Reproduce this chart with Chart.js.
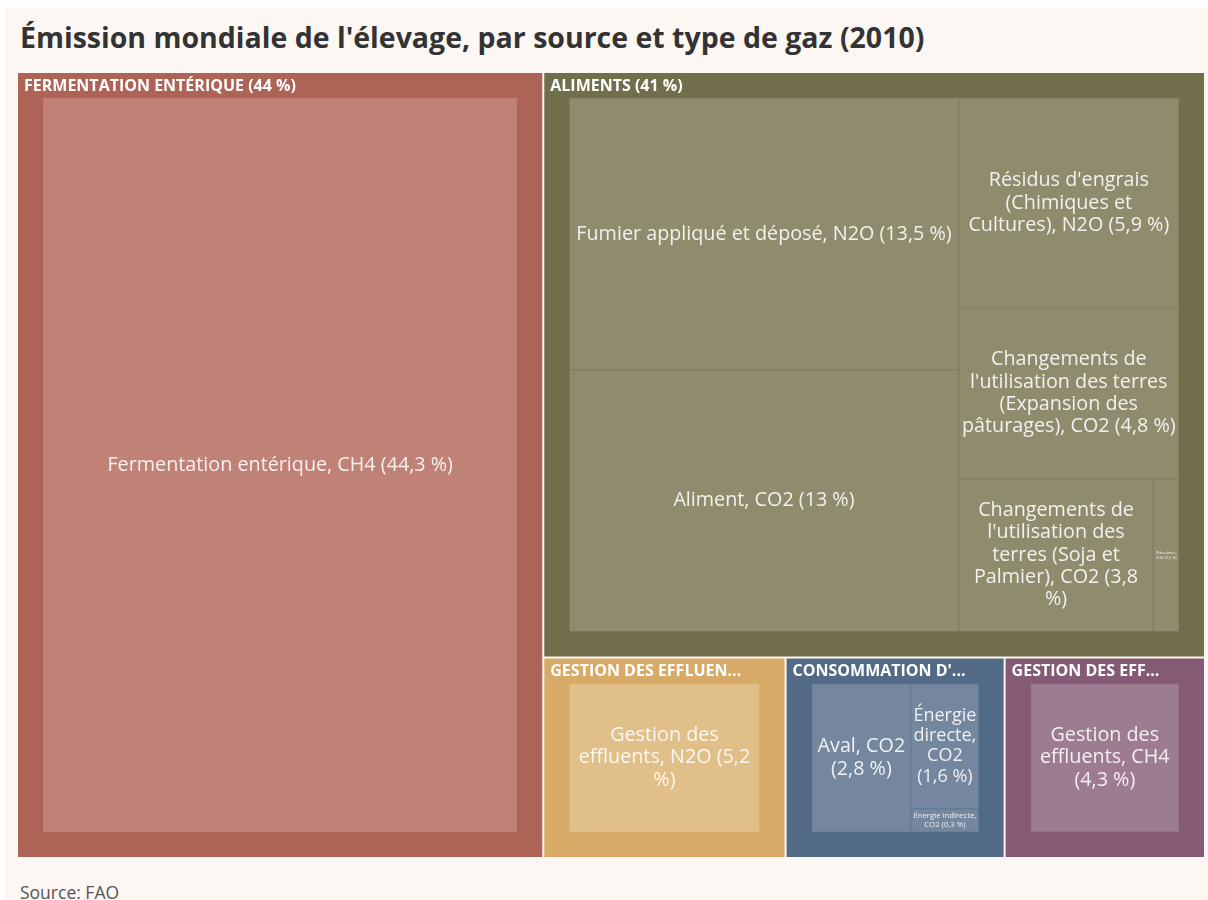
<!DOCTYPE html>
<html>
<head>
<meta charset="utf-8">
<script src="https://cdn.jsdelivr.net/npm/chart.js@4.4.0/dist/chart.umd.min.js"></script>
<style>
html,body{margin:0;padding:0;background:#fff;}
#page{position:absolute;left:5px;top:8px;width:1203px;height:892px;background:#fcf7f3;font-family:"Open Sans",sans-serif;overflow:hidden;}
h1{position:absolute;left:15px;top:12px;margin:0;font-size:28.5px;line-height:34px;font-weight:700;color:#333;}
#wrap{position:absolute;left:12px;top:64px;width:1188px;height:786px;}
#src{position:absolute;left:15px;top:872px;font-size:17.5px;line-height:24px;color:#555;}
</style>
</head>
<body>
<div id="page">
  <h1>Émission mondiale de l'élevage, par source et type de gaz (2010)</h1>
  <div id="wrap"><canvas id="myTreemap" width="1188" height="786"></canvas></div>
  <div id="src">Source: FAO</div>
</div>
<script>
// groupes (source)
var groupNames = [
  "Fermentation entérique (44 %)",
  "Aliments (41 %)",
  "Gestion des effluents, N2O (5 %)",
  "Consommation d'énergie (5 %)",
  "Gestion des effluents, CH4 (4 %)"
];
// postes (source + gaz)
var leafLabels = [
  "Fermentation entérique, CH4 (44,3 %)",
  "Fumier appliqué et déposé, N2O (13,5 %)",
  "Aliment, CO2 (13 %)",
  "Résidus d'engrais (Chimiques et Cultures), N2O (5,9 %)",
  "Changements de l'utilisation des terres (Expansion des pâturages), CO2 (4,8 %)",
  "Changements de l'utilisation des terres (Soja et Palmier), CO2 (3,8 %)",
  "Riziculture, CH4 (0,5 %)",
  "Gestion des effluents, N2O (5,2 %)",
  "Aval, CO2 (2,8 %)",
  "Énergie directe, CO2 (1,6 %)",
  "Énergie indirecte, CO2 (0,3 %)",
  "Gestion des effluents, CH4 (4,3 %)"
];
var leafValues = [44.3, 13.5, 13, 5.9, 4.8, 3.8, 0.5, 5.2, 2.8, 1.6, 0.3, 4.3];
var leafGroup  = [0, 1, 1, 1, 1, 1, 1, 2, 3, 3, 3, 4];

var groupColors = ["#ad6456", "#716f4b", "#d8aa68", "#536a86", "#845a74"];
var leafColors  = ["#c08176", "#8f8b6d", "#e1bf88", "#74879f", "#9d7b90"];

// classic squarified layout (ratio 1)
function squarify(items, x0, y0, x1, y1) {
  var value = 0, n = items.length, i0 = 0, i1 = 0;
  items.forEach(function(d){ value += d.value; });
  while (i0 < n) {
    var dx = x1 - x0, dy = y1 - y0;
    var sumValue = items[i1++].value;
    var minValue = sumValue, maxValue = sumValue;
    var alpha = Math.max(dy / dx, dx / dy) / value;
    var beta = sumValue * sumValue * alpha;
    var minRatio = Math.max(maxValue / beta, beta / minValue);
    for (; i1 < n; ++i1) {
      var nv = items[i1].value;
      sumValue += nv;
      if (nv < minValue) minValue = nv;
      if (nv > maxValue) maxValue = nv;
      beta = sumValue * sumValue * alpha;
      var newRatio = Math.max(maxValue / beta, beta / minValue);
      if (newRatio > minRatio) { sumValue -= nv; break; }
      minRatio = newRatio;
    }
    var row = items.slice(i0, i1), k, p;
    if (dx < dy) {
      var ny = y0 + dy * sumValue / value;
      k = dx / sumValue; p = x0;
      row.forEach(function(d){ d.x0 = p; p += d.value * k; d.x1 = p; d.y0 = y0; d.y1 = ny; });
      y0 = ny;
    } else {
      var nx = x0 + dx * sumValue / value;
      k = dy / sumValue; p = y0;
      row.forEach(function(d){ d.y0 = p; p += d.value * k; d.y1 = p; d.x0 = x0; d.x1 = nx; });
      x0 = nx;
    }
    value -= sumValue;
    i0 = i1;
  }
}

function wrapText(ctx, text, maxW) {
  var words = text.split(" "), lines = [], line = "";
  words.forEach(function(w){
    var t = line ? line + " " + w : w;
    if (line && ctx.measureText(t).width > maxW) { lines.push(line); line = w; }
    else line = t;
  });
  if (line) lines.push(line);
  return lines;
}

class TreemapController extends Chart.DatasetController {
  parse(start, count) {
    var meta = this._cachedMeta, data = this.getDataset().data;
    for (var i = start; i < start + count; i++) meta._parsed[i] = data[i];
  }
  update(mode) {
    var meta = this._cachedMeta;
    var xs = meta.xScale, ys = meta.yScale;
    var left = xs.getPixelForValue(xs.min), right = xs.getPixelForValue(xs.max);
    var top = ys.getPixelForValue(ys.max), bottom = ys.getPixelForValue(ys.min);
    var data = this.getDataset().data;
    var groups = data.filter(function(d){ return d.type === "group"; });
    groups.sort(function(a, b){ return b.value - a.value; });
    squarify(groups, left, top, right, bottom);
    groups.forEach(function(g){
      // 1px gap between groups
      g.x0 += 1; g.y0 += 1; g.x1 -= 1; g.y1 -= 1;
      var kids = data.filter(function(d){ return d.type === "leaf" && d.g === g.g; });
      kids.sort(function(a, b){ return b.value - a.value; });
      squarify(kids, g.x0 + 25, g.y0 + 25, g.x1 - 25, g.y1 - 25);
    });
    for (var i = 0; i < meta.data.length; i++) {
      var d = data[i];
      var leaf = d.type === "leaf";
      this.updateElement(meta.data[i], i, {
        x: (d.x0 + d.x1) / 2, y: d.y0, base: d.y1,
        width: d.x1 - d.x0, height: d.y1 - d.y0,
        horizontal: false, inflateAmount: 0, borderSkipped: {},
        options: {
          backgroundColor: leaf ? leafColors[d.g] : groupColors[d.g],
          borderColor: "rgba(255,255,255,0.22)",
          borderWidth: leaf ? 0.6 : 0,
          borderRadius: 0
        }
      }, "none");
    }
  }
  draw() {
    super.draw();
    var ctx = this._ctx, data = this.getDataset().data;
    ctx.save();
    data.forEach(function(d){
      var w = d.x1 - d.x0, h = d.y1 - d.y0;
      if (d.type === "group") {
        ctx.font = "bold 16px 'Open Sans'";
        ctx.fillStyle = "#ffffff";
        ctx.textAlign = "left";
        ctx.textBaseline = "middle";
        var t = groupNames[d.g].toUpperCase();
        var maxW = w - 44;
        if (ctx.measureText(t).width > maxW) {
          while (t.length && ctx.measureText(t + "...").width > maxW) t = t.slice(0, -1);
          t = t.replace(/[\s,]+$/, "") + "...";
        }
        ctx.fillText(t, d.x0 + 6, d.y0 + 13);
        return;
      }
      var pad = Math.min(2, w * 0.12);
      var size = 19.75, lines;
      for (; size >= 3; size -= 0.25) {
        ctx.font = size + "px 'Open Sans'";
        lines = wrapText(ctx, d.label, w - 2 * pad);
        var widest = Math.max.apply(null, lines.map(function(l){ return ctx.measureText(l).width; }));
        if (widest <= w - 2 * pad && lines.length * size * 1.13 <= h - 2 * pad) break;
      }
      ctx.fillStyle = "rgba(255,255,255,0.88)";
      ctx.textAlign = "center";
      ctx.textBaseline = "middle";
      var lh = size * 1.13;
      var cy = (d.y0 + d.y1) / 2 - (lines.length - 1) * lh / 2;
      lines.forEach(function(l, j){ ctx.fillText(l, (d.x0 + d.x1) / 2, cy + j * lh); });
    });
    ctx.restore();
  }
}
TreemapController.id = "treemap";
TreemapController.defaults = { datasetElementType: false, dataElementType: "bar" };
Chart.register(TreemapController);

var cells = [];
groupNames.forEach(function(name, g){
  var sum = 0;
  leafValues.forEach(function(v, i){ if (leafGroup[i] === g) sum += v; });
  cells.push({ type: "group", g: g, value: sum });
});
leafValues.forEach(function(v, i){
  cells.push({ type: "leaf", g: leafGroup[i], value: v, label: leafLabels[i] });
});

new Chart("myTreemap", {
  type: "treemap",
  data: { datasets: [{ data: cells }] },
  options: {
    responsive: false,
    animation: false,
    events: [],
    layout: { padding: 0 },
    scales: {
      x: { type: "linear", min: 0, max: 100, display: false },
      y: { type: "linear", min: 0, max: 100, display: false }
    },
    plugins: { legend: { display: false }, tooltip: { enabled: false } }
  }
});
</script>
</body>
</html>
